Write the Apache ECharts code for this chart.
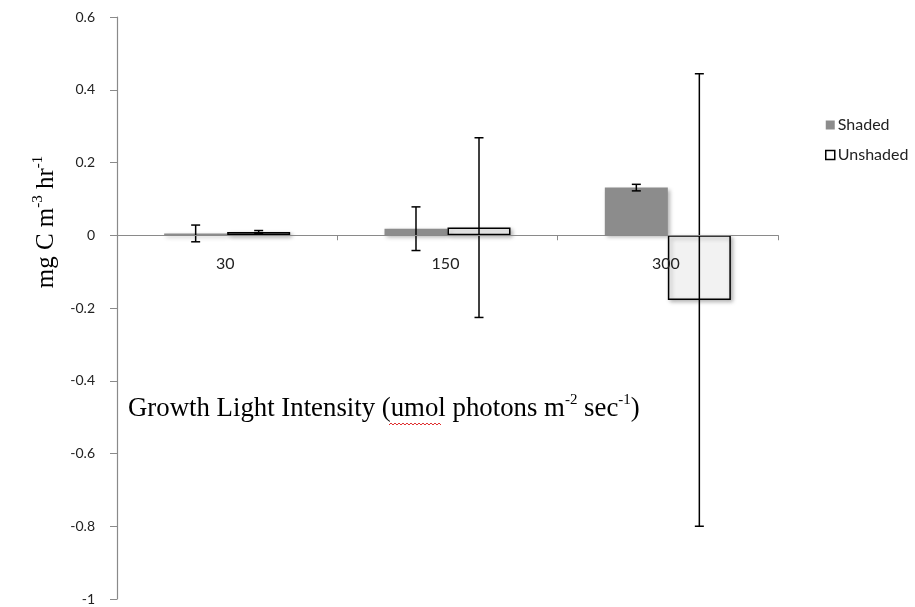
<!DOCTYPE html>
<html><head><meta charset="utf-8">
<script src="https://cdn.jsdelivr.net/npm/echarts@6/dist/echarts.min.js"></script>
<style>html,body{margin:0;padding:0;background:#fff}#c{width:915px;height:607px}</style>
</head><body><div id="c"></div>
<script>
const categories = ['30', '150', '300'];
const shaded = [0.005, 0.018, 0.131];
const shadedErr = [0.023, 0.06, 0.009];
const unshaded = [0.009, 0.021, -0.178];
const unshadedErr = [0.004, 0.247, 0.622];
const yTicks = { min: -1, max: 0.6, interval: 0.2 };

const BAR_RATIO = 0.286;
function errSeries(name, vals, errs, side) {
  return {
    type: 'custom', name: name + ' err', z: 6, silent: true,
    data: vals.map((v, i) => [i, v, errs[i]]),
    renderItem: function (params, api) {
      const i = api.value(0), v = api.value(1), e = api.value(2);
      const band = api.size([1, 0])[0];
      const off = side * band * BAR_RATIO / 2;
      const top = api.coord([i, v + e]);
      const bot = api.coord([i, v - e]);
      const x = top[0] + off;
      const cap = 4.5;
      const st = { stroke: '#000', lineWidth: 1.5 };
      return { type: 'group', children: [
        { type: 'line', shape: { x1: x, y1: top[1], x2: x, y2: bot[1] }, style: st },
        { type: 'line', shape: { x1: x - cap, y1: top[1], x2: x + cap, y2: top[1] }, style: st },
        { type: 'line', shape: { x1: x - cap, y1: bot[1], x2: x + cap, y2: bot[1] }, style: st }
      ]};
    },
    encode: { x: 0, y: 1 }
  };
}

// category labels drawn next to the zero line (as in the original)
const catLabelSeries = {
  type: 'custom', name: 'cat labels', z: 10, silent: true,
  data: categories.map((c, i) => [i, 0]),
  renderItem: function (params, api) {
    const p = api.coord([api.value(0), 0]);
    return { type: 'text', x: p[0] - 2, y: p[1] + 29,
      style: { text: categories[params.dataIndex], align: 'center', verticalAlign: 'middle',
        fontFamily: 'Lato', fontSize: 16, fill: '#222' } };
  },
  encode: { x: 0, y: 1 }
};

const chart = echarts.init(document.getElementById('c'));
chart.setOption({
  animation: false,
  grid: { left: 117, right: 137, top: 17, bottom: 8, containLabel: false, outerBoundsMode: 'none' },
  legend: {
    orient: 'vertical', left: 820, top: 112, itemWidth: 9, itemHeight: 9, itemGap: 14,
    data: [
      { name: 'Shaded', icon: 'rect', itemStyle: { color: '#8c8c8c', borderWidth: 0 } },
      { name: 'Unshaded', icon: 'rect', itemStyle: { color: '#fff', borderColor: '#000', borderWidth: 1.5 } }
    ],
    textStyle: { fontFamily: 'Lato', fontSize: 16, color: '#222', padding: [0, 0, 0, -2] }
  },
  xAxis: {
    type: 'category', data: categories, z: 8,
    axisLine: { onZero: true, lineStyle: { color: '#8a8a8a', width: 1.2 } },
    axisTick: { show: true, length: 5, lineStyle: { color: '#8a8a8a' } },
    axisLabel: { show: false }
  },
  yAxis: {
    type: 'value', min: yTicks.min, max: yTicks.max, interval: yTicks.interval,
    splitLine: { show: false },
    axisLine: { show: true, lineStyle: { color: '#8a8a8a', width: 1.2 } },
    axisTick: { show: true, length: 7, lineStyle: { color: '#8a8a8a' } },
    axisLabel: { margin: 22, fontFamily: 'Lato', fontSize: 14, color: '#222',
      formatter: v => String(Math.round(v * 10) / 10) }
  },
  series: [
    { name: 'Shaded', type: 'bar', data: shaded, barWidth: (BAR_RATIO * 100) + '%', barGap: '0%',
      itemStyle: { color: '#8c8c8c', shadowBlur: 4, shadowOffsetX: 2, shadowOffsetY: 2, shadowColor: 'rgba(0,0,0,0.3)' } },
    { name: 'Unshaded', type: 'bar', data: unshaded, barWidth: (BAR_RATIO * 100) + '%', barGap: '0%',
      itemStyle: { color: '#f2f2f2', borderColor: '#000', borderWidth: 1.5, shadowBlur: 4, shadowOffsetX: 2, shadowOffsetY: 2, shadowColor: 'rgba(0,0,0,0.3)' } },
    errSeries('Shaded', shaded, shadedErr, -1),
    errSeries('Unshaded', unshaded, unshadedErr, 1),
    catLabelSeries
  ],
  graphic: [
    { type: 'text', x: 46, y: 222, rotation: Math.PI / 2, z: 20,
      style: {
        text: '{a|mg C m}{s|-3}{a| hr}{s|-1}', align: 'center', verticalAlign: 'middle',
        rich: {
          a: { fontFamily: 'Liberation Serif', fontSize: 25, fill: '#000', lineHeight: 30 },
          s: { fontFamily: 'Liberation Serif', fontSize: 15, fill: '#000', verticalAlign: 'top', lineHeight: 18 }
        }
      } },
    { type: 'text', left: 128, top: 393, z: 20,
      style: {
        text: '{a|Growth Light Intensity (umol photons m}{s|-2}{a| sec}{s|-1}{a|)}',
        rich: {
          a: { fontFamily: 'Liberation Serif', fontSize: 26.8, fill: '#000', lineHeight: 32 },
          s: { fontFamily: 'Liberation Serif', fontSize: 15, fill: '#000', verticalAlign: 'top', lineHeight: 20 }
        }
      } },
    { type: 'polyline', z: 21, silent: true,
      shape: { points: (function () { const pts = []; for (let x = 389; x <= 441; x += 2) pts.push([x, (x - 389) % 4 === 0 ? 425 : 423]); return pts; })() },
      style: { stroke: '#e03030', lineWidth: 1, fill: null } }
  ]
});
</script></body></html>
